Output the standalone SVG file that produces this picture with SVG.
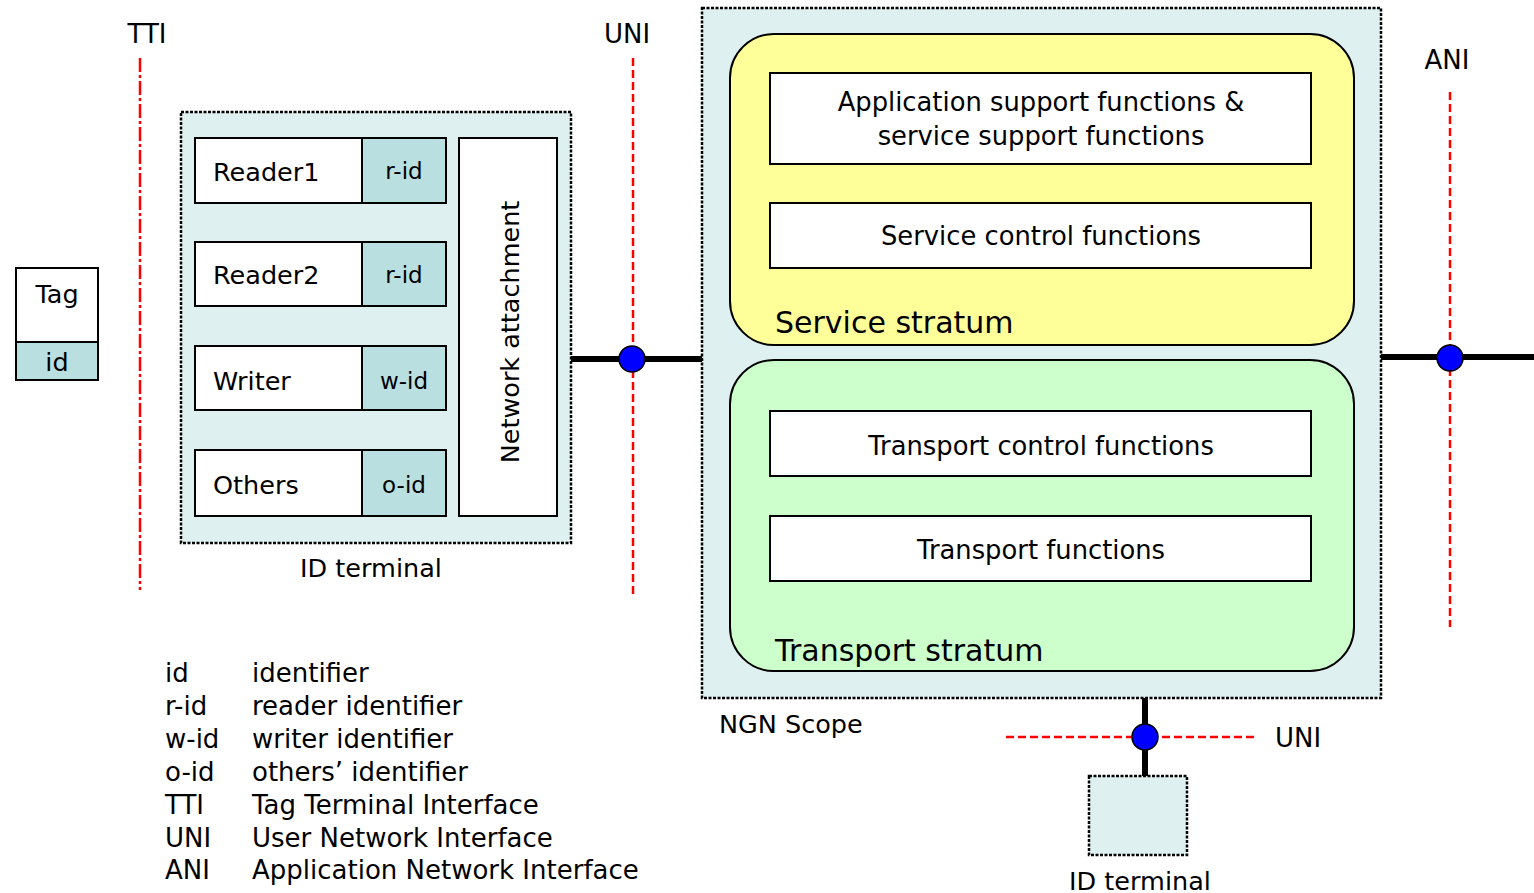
<svg xmlns="http://www.w3.org/2000/svg" width="1534" height="893" viewBox="0 0 1534 893">
<style>
text{font-family:"DejaVu Sans","Verdana",sans-serif;fill:#000}
.t25{font-size:25.5px}
.t26{font-size:26px}
.tf{font-size:25.8px}
.t29{font-size:30px}
.box{fill:#fff;stroke:#000;stroke-width:2}
.idf{fill:#b9dfe1;stroke:#000;stroke-width:2}
.scope{fill:#dff0f0;stroke:#000;stroke-width:2.5;stroke-dasharray:3 1.5}
.red{stroke:#f00;stroke-width:2.5;fill:none;stroke-dasharray:8 4}
.reddot{stroke:#f00;stroke-width:2.5;fill:none;stroke-dasharray:14 3 3 3}
.thick{stroke:#000;stroke-width:6;fill:none}
.dot{fill:#00f;stroke:#000;stroke-width:1.5}
</style>
<g id="interfaces">
<text class="t26" x="147" y="43" text-anchor="middle">TTI</text>
<line class="reddot" x1="140" y1="58" x2="140" y2="590"/>
<text class="t26" x="627" y="43" text-anchor="middle">UNI</text>
<line class="red" x1="633" y1="58" x2="633" y2="595"/>
<text class="t26" x="1447" y="69" text-anchor="middle">ANI</text>
<line class="red" x1="1450" y1="92" x2="1450" y2="627"/>
<line class="red" x1="1006" y1="737" x2="1258" y2="737"/>
<text class="t26" x="1275" y="747">UNI</text>
</g>
<g id="tag">
<rect class="box" x="16" y="268" width="82" height="74"/>
<rect class="idf" x="16" y="342" width="82" height="38"/>
<text class="t25" x="57" y="303" text-anchor="middle">Tag</text>
<text class="t25" x="57" y="371" text-anchor="middle">id</text>
</g>
<g id="id-terminal">
<rect class="scope" x="181" y="112" width="390" height="431"/>
<g id="reader1">
<rect class="box" x="195" y="138" width="167" height="65"/>
<rect class="idf" x="362" y="138" width="84" height="65"/>
<text class="t25" x="213" y="181">Reader1</text>
<text x="404" y="179" text-anchor="middle" style="font-size:23px">r-id</text>
</g>
<g id="reader2">
<rect class="box" x="195" y="242" width="167" height="64"/>
<rect class="idf" x="362" y="242" width="84" height="64"/>
<text class="t25" x="213" y="284">Reader2</text>
<text x="404" y="283" text-anchor="middle" style="font-size:23px">r-id</text>
</g>
<g id="writer">
<rect class="box" x="195" y="346" width="167" height="64"/>
<rect class="idf" x="362" y="346" width="84" height="64"/>
<text class="t25" x="213" y="390">Writer</text>
<text x="404" y="389" text-anchor="middle" style="font-size:23px">w-id</text>
</g>
<g id="others">
<rect class="box" x="195" y="450" width="167" height="66"/>
<rect class="idf" x="362" y="450" width="84" height="66"/>
<text class="t25" x="213" y="494">Others</text>
<text x="404" y="493" text-anchor="middle" style="font-size:23px">o-id</text>
</g>
<g id="network-attachment">
<rect class="box" x="459" y="138" width="98" height="378"/>
<text class="t25" transform="translate(519,332) rotate(-90)" text-anchor="middle">Network attachment</text>
</g>
<text class="t25" x="371" y="577" text-anchor="middle">ID terminal</text>
</g>
<g id="ngn-scope">
<rect class="scope" x="702" y="8" width="679" height="690"/>
<text class="t25" x="719" y="733">NGN Scope</text>
<g id="service-stratum">
<rect x="730" y="34" width="624" height="311" rx="44" ry="44" fill="#ffff99" stroke="#000" stroke-width="2"/>
<text class="t29" x="775" y="333">Service stratum</text>
<g id="app-support">
<rect class="box" x="770" y="73" width="541" height="91"/>
<text class="tf" x="1041" y="111" text-anchor="middle">Application support functions &amp;</text>
<text class="tf" x="1041" y="145" text-anchor="middle">service support functions</text>
</g>
<g id="service-control">
<rect class="box" x="770" y="203" width="541" height="65"/>
<text class="tf" x="1041" y="245" text-anchor="middle">Service control functions</text>
</g>
</g>
<g id="transport-stratum">
<rect x="730" y="360" width="624" height="311" rx="44" ry="44" fill="#ccffcc" stroke="#000" stroke-width="2"/>
<text class="t29" x="775" y="661">Transport stratum</text>
<g id="transport-control">
<rect class="box" x="770" y="411" width="541" height="65"/>
<text class="tf" x="1041" y="455" text-anchor="middle">Transport control functions</text>
</g>
<g id="transport-functions">
<rect class="box" x="770" y="516" width="541" height="65"/>
<text class="tf" x="1041" y="559" text-anchor="middle">Transport functions</text>
</g>
</g>
</g>
<g id="id-terminal-2">
<rect class="scope" x="1089" y="776" width="98" height="79"/>
<text class="t25" x="1140" y="890" text-anchor="middle">ID terminal</text>
</g>
<g id="connectors">
<line class="thick" x1="571" y1="359" x2="702" y2="359"/>
<circle class="dot" cx="632" cy="359" r="13"/>
<line class="thick" x1="1381" y1="357" x2="1534" y2="357"/>
<circle class="dot" cx="1450" cy="358" r="13"/>
<line class="thick" x1="1145" y1="698" x2="1145" y2="776"/>
<circle class="dot" cx="1145" cy="737" r="13"/>
</g>
<g id="legend" style="font-size:26px">
<text x="165" y="682">id</text><text x="252" y="682">identifier</text>
<text x="165" y="715">r-id</text><text x="252" y="715">reader identifier</text>
<text x="165" y="748">w-id</text><text x="252" y="748">writer identifier</text>
<text x="165" y="781">o-id</text><text x="252" y="781">others’ identifier</text>
<text x="165" y="814">TTI</text><text x="252" y="814">Tag Terminal Interface</text>
<text x="165" y="847">UNI</text><text x="252" y="847">User Network Interface</text>
<text x="165" y="879">ANI</text><text x="252" y="879">Application Network Interface</text>
</g>
</svg>
